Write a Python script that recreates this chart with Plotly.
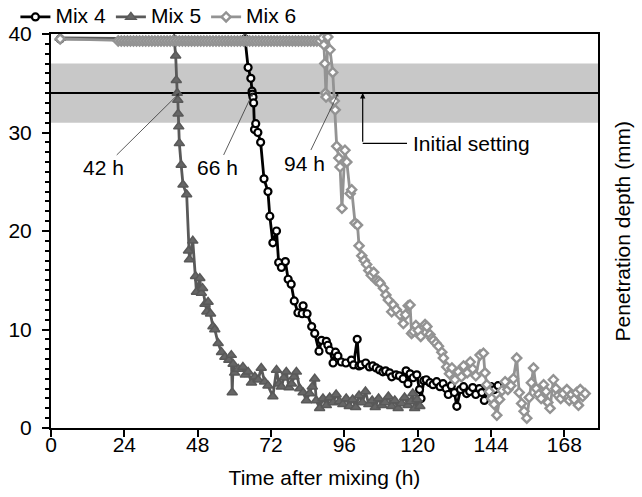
import plotly.graph_objects as go

# ---------------- data ----------------
mix4_t = [3, 63.5, 64.5, 65.4, 65.8, 65.9, 66.1, 66.3, 66.6, 67.0, 67.7, 68.6, 69.7, 71.0, 71.6,
          72.6, 73.8, 74.5, 75.4, 76.7, 77.6, 78.6, 79.6, 80.8, 82.2, 82.5, 83.8, 85.3, 86.3, 87.7,
          88.5, 90.1, 90.6, 91.2, 92.3, 93.1, 93.9, 95.0, 96.5, 98.3, 99.0, 100.2, 100.8, 101.5,
          103.0, 104.2, 105.3, 106.4, 107.5, 108.6, 109.5, 110.8, 111.5, 112.9, 114.0, 115.2,
          116.2, 116.8, 117.5, 118.5, 119.7, 120.6, 121.1, 122.0, 122.8, 124.0, 125.0, 126.2,
          127.3, 128.3, 129.3, 130.0, 131.0, 132.0, 132.8, 134.0, 135.0, 136.0, 137.0, 138.0,
          139.0, 140.2, 141.0, 141.8, 143.0, 144.0, 145.1, 146.3]
mix4_v = [39.5, 39.5, 36.6, 35.5, 34.2, 33.9, 33.6, 33.0, 30.3, 30.9, 30.0, 29.0, 25.3, 24.0, 21.5,
          18.8, 20.0, 16.8, 16.3, 16.9, 15.1, 14.6, 12.9, 11.7, 11.6, 12.4, 11.6, 10.3, 9.6, 7.8,
          8.9, 8.8, 8.4, 7.9, 6.6, 7.7, 7.3, 6.7, 6.6, 6.9, 6.4, 9.0, 6.3, 6.4,
          6.6, 6.2, 6.3, 6.1, 5.9, 5.7, 5.8, 5.6, 5.2, 5.4, 5.3, 5.0,
          5.8, 4.5, 5.5, 5.1, 5.4, 3.9, 3.0, 4.8, 4.9, 4.6, 4.4, 4.7,
          4.2, 4.5, 4.0, 3.4, 4.3, 3.6, 2.2, 3.9, 4.2, 3.5, 3.7, 4.1,
          3.4, 4.0, 3.6, 2.8, 3.8, 4.2, 3.9, 4.3]

mix5_t = [3, 40.3, 40.8, 41.0, 41.3, 41.5, 41.6, 41.8, 42.0, 42.6, 43.2, 44.4, 45.0, 45.3, 46.4,
          47.3, 47.6, 48.7, 49.2, 49.6, 50.4, 51.0, 51.4, 52.2, 53.0, 53.6, 54.7, 55.8, 56.9,
          58.2, 59.0, 59.3, 59.6, 60.1, 61.3, 62.8, 63.6, 64.5, 65.6, 66.7, 67.8, 68.8, 69.9,
          71.0, 72.6, 73.8, 74.6, 75.4, 76.2, 77.0, 77.9, 78.7, 79.5, 80.3, 81.4, 82.5, 83.6,
          84.6, 85.5, 86.3, 86.8, 87.9, 89.0, 90.1, 91.2, 92.3, 93.3, 94.4, 95.5, 96.6, 97.6,
          98.7, 99.7, 100.8, 101.9, 102.9, 104.0, 105.1, 106.1, 107.2, 108.3, 109.3, 110.4,
          111.5, 112.5, 113.6, 114.7, 115.7, 116.8, 117.8, 118.4, 119.0, 119.8, 120.7]
mix5_v = [39.6, 39.5, 37.8, 35.3, 34.0, 33.3, 31.9, 30.6, 28.9, 26.7, 24.7, 23.7, 18.0, 17.1, 19.0,
          15.4, 13.8, 15.2, 13.7, 14.2, 12.6, 11.8, 12.8, 11.6, 10.3, 10.0, 8.6, 7.7, 7.2,
          6.9, 7.4, 3.6, 6.5, 5.6, 6.0, 6.2, 5.4, 5.7, 4.6, 5.2, 4.9, 6.1, 4.7,
          4.3, 3.2, 5.9, 4.5, 4.2, 5.1, 5.7, 4.1, 4.5, 5.2, 5.7, 4.0, 3.6, 2.8,
          3.5, 4.2, 5.0, 2.8, 2.0, 3.0, 2.3, 3.1, 2.6, 3.4, 2.7, 2.4, 3.0, 2.2,
          2.9, 2.1, 3.3, 2.6, 3.7, 2.4, 2.8, 2.1, 3.0, 2.3, 2.6, 3.2,
          2.2, 2.8, 2.0, 2.5, 3.1, 2.3, 2.7, 3.5, 2.0, 2.9, 2.2]

mix6_t = [3, 22, 23, 24, 25, 26, 27, 28, 29, 30, 31, 32, 33, 34, 35, 36, 37, 38, 39, 40, 41,
          42, 43, 44, 45, 46, 47, 48, 49, 50, 51, 52, 53, 54, 55, 56, 57, 58, 59, 60, 61, 62,
          63, 64, 65, 66, 67, 68, 69, 70, 71, 72, 73, 74, 75, 76, 77, 78, 79, 80, 81, 82, 83,
          84, 85, 86, 87, 88,
          88.8, 89.3, 89.6, 89.8, 90.0, 90.6, 91.3, 92.2, 92.7, 93.0, 93.5, 94.2, 94.6, 95.2,
          96.2, 96.8, 97.9, 98.4, 99.5, 100.3, 100.8, 101.7, 102.5, 103.3, 104.0, 104.8, 105.6,
          106.4, 107.2, 107.7, 108.8, 109.6, 110.4, 111.5, 112.0, 113.0, 114.2, 115.3, 116.0,
          116.9, 117.5, 118.0, 118.6, 119.4, 120.2, 121.0, 122.4, 123.0, 124.0, 124.6, 125.1,
          126.0, 126.8, 127.9, 128.4, 129.5, 130.4, 131.2, 132.2, 133.3, 134.3, 135.0, 136.2,
          137.2, 138.0, 139.0, 140.4, 141.5, 142.0, 142.6, 143.4, 144.2, 145.0, 145.9, 146.8,
          147.6, 148.6, 149.5, 150.5, 151.3, 152.4, 153.2, 154.0, 154.8, 155.7, 156.5, 157.2,
          157.9, 158.8, 159.6, 160.4, 161.2, 162.0, 162.6, 163.3, 164.4, 165.2, 166.0, 166.8,
          167.6, 168.8, 169.6, 170.4, 171.2, 172.0, 172.6, 173.2, 174.0, 174.8]
mix6_v = [39.5, 39.3, 39.3, 39.3, 39.3, 39.3, 39.3, 39.3, 39.3, 39.3, 39.3, 39.3, 39.3, 39.3,
          39.3, 39.3, 39.3, 39.3, 39.3, 39.3, 39.3, 39.3, 39.3, 39.3, 39.3, 39.3, 39.3, 39.3,
          39.3, 39.3, 39.3, 39.3, 39.3, 39.3, 39.3, 39.3, 39.3, 39.3, 39.3, 39.3, 39.3, 39.3,
          39.3, 39.3, 39.3, 39.3, 39.3, 39.3, 39.3, 39.3, 39.3, 39.3, 39.3, 39.3, 39.3, 39.3,
          39.3, 39.3, 39.3, 39.3, 39.3, 39.3, 39.3, 39.3, 39.3, 39.3, 39.3, 39.3,
          39.6, 38.9, 37.0, 34.0, 33.6, 39.7, 38.4, 36.1, 33.2, 32.3, 28.6, 27.4, 26.5, 22.3,
          28.2, 27.0, 23.8, 24.2, 20.8, 20.6, 18.5, 17.5, 17.0, 16.6, 16.0, 15.5, 15.8,
          15.0, 14.9, 14.7, 14.2, 13.5, 13.0, 11.8, 12.5, 12.0, 11.5, 10.6, 11.5,
          12.4, 12.5, 9.6, 9.8, 10.4, 9.9, 9.3, 10.5, 10.3, 9.5, 9.1, 8.9,
          8.6, 8.3, 7.7, 7.1, 6.2, 5.5, 6.1, 4.9, 5.7, 5.2, 6.3, 5.6,
          6.7, 6.0, 5.3, 7.4, 7.6, 5.6, 4.4, 3.7, 3.0, 2.4, 1.3, 2.9,
          3.8, 4.7, 3.9, 4.3, 5.0, 7.1, 3.6, 2.5, 1.7, 1.0, 3.1, 4.6,
          6.1, 4.0, 3.4, 3.0, 4.4, 3.7, 2.6, 2.0, 4.9, 4.0, 3.3, 3.0,
          3.5, 3.9, 2.8, 3.4, 2.9, 3.6, 2.3, 3.9, 3.2, 3.5]

series_names = ["Mix 4", "Mix 5", "Mix 6"]
x_ticks = [0, 24, 48, 72, 96, 120, 144, 168]
y_ticks = [0, 10, 20, 30, 40]
initial_setting = 34
setting_band = (31, 37)
crossings = [(42, "42 h", 17.2, 26.4), (66, "66 h", 54.5, 26.4), (94, "94 h", 83.0, 26.9)]

FONT = "Liberation Sans, Arial, Helvetica, sans-serif"
FS = 21


def big(name):
    return '<span style="font-size:%dpx">%s</span>' % (FS, name)


fig = go.Figure()
fig.add_trace(go.Scatter(x=mix4_t, y=mix4_v, name=big(series_names[0]), mode="lines+markers",
                         line=dict(color="#000000", width=2.8),
                         marker=dict(symbol="circle", size=7, color="white",
                                     line=dict(color="#000000", width=2.2))))
fig.add_trace(go.Scatter(x=mix5_t, y=mix5_v, name=big(series_names[1]), mode="lines+markers",
                         line=dict(color="#595959", width=2.8),
                         marker=dict(symbol="triangle-up", size=9, color="#666666",
                                     line=dict(color="#595959", width=1.5))))
fig.add_trace(go.Scatter(x=mix6_t, y=mix6_v, name=big(series_names[2]), mode="lines+markers",
                         line=dict(color="#939393", width=2.8),
                         marker=dict(symbol="diamond", size=7, color="white",
                                     line=dict(color="#939393", width=2.4))))

# grey band and initial-setting line
fig.add_shape(type="rect", xref="paper", x0=0, x1=1, y0=setting_band[0], y1=setting_band[1],
              fillcolor="#c8c8c8", line=dict(width=0), layer="below")
fig.add_shape(type="line", xref="paper", x0=0, x1=1, y0=initial_setting, y1=initial_setting,
              line=dict(color="#000000", width=2), layer="below")

for xh, txt, tx, ty in crossings:
    fig.add_annotation(x=xh, y=initial_setting, ax=tx, ay=ty, axref="x", ayref="y",
                       text=txt, showarrow=True, arrowhead=2, arrowsize=0.8, arrowwidth=0.8,
                       arrowcolor="#333333", standoff=0, startstandoff=0,
                       font=dict(family=FONT, size=FS, color="#000000"))

# Initial setting arrow (elbow)
fig.add_shape(type="line", x0=102, x1=116.5, y0=28.9, y1=28.9,
              line=dict(color="#000000", width=1.2))
fig.add_annotation(x=102, y=initial_setting, ax=102, ay=28.9, axref="x", ayref="y",
                   text="", showarrow=True, arrowhead=2, arrowsize=0.9, arrowwidth=1.2,
                   arrowcolor="#000000", standoff=0)
fig.add_annotation(x=117.8, y=28.9, text="Initial setting", showarrow=False, xanchor="left",
                   font=dict(family=FONT, size=FS, color="#000000"))

# right-side y title
fig.add_annotation(xref="paper", yref="paper", x=1, y=0.5, xshift=10, xanchor="left",
                   text="Penetration depth (mm)", textangle=-90, showarrow=False,
                   font=dict(family=FONT, size=FS, color="#000000"))

fig.update_layout(
    width=642, height=497,
    margin=dict(l=51, r=44, t=34, b=69),
    plot_bgcolor="white", paper_bgcolor="white",
    font=dict(family=FONT, size=FS, color="#000000"),
    showlegend=True,
    legend=dict(orientation="h", xref="container", yref="container",
                x=0.024, xanchor="left", y=1.0, yanchor="top",
                font=dict(family=FONT, size=16), bgcolor="rgba(0,0,0,0)",
                itemwidth=30, tracegroupgap=0),
    xaxis=dict(range=[0, 179], tickvals=x_ticks, ticks="outside", ticklen=7, tickwidth=2,
               tickcolor="#000000", showline=True, linecolor="#000000", linewidth=2,
               mirror=True, showgrid=False, zeroline=False, tickfont=dict(size=FS),
               automargin=False, ticklabelstandoff=-10,
               title=dict(text="Time after mixing (h)", font=dict(size=FS))),
    yaxis=dict(range=[0, 40], tickvals=y_ticks, ticks="outside", ticklen=7, tickwidth=2,
               tickcolor="#000000", showline=True, linecolor="#000000", linewidth=2,
               mirror=True, showgrid=False, zeroline=False, tickfont=dict(size=FS),
               automargin=False, ticklabelstandoff=6,
               minor=dict(dtick=1, ticks="outside", ticklen=4, tickwidth=1.5,
                          tickcolor="#000000", showgrid=False)),
)

fig.write_html("out.html")
